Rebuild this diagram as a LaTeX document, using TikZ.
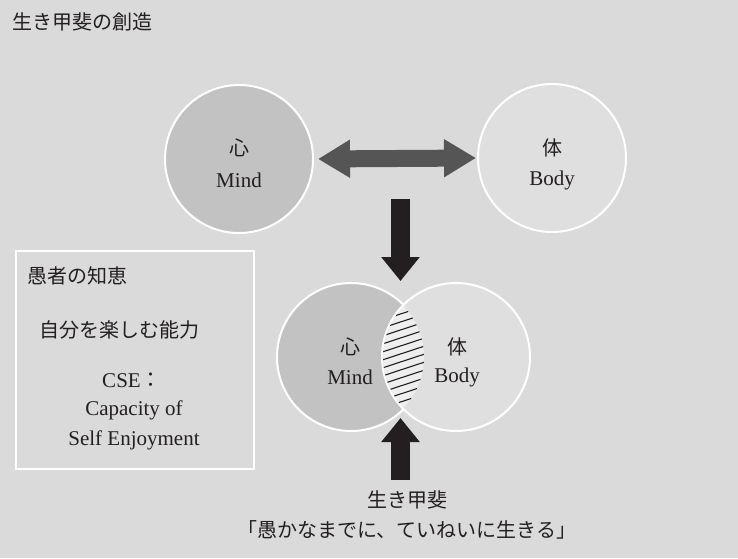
\documentclass[tikz,border=0pt]{standalone}
\usepackage{fontspec}
\setmainfont{Liberation Serif}
\newfontfamily\jp{Noto Sans CJK JP}
\usetikzlibrary{arrows.meta}
\definecolor{bg}{HTML}{DADADA}
\definecolor{mindgray}{HTML}{C2C2C2}
\definecolor{bodygray}{HTML}{DFDFDF}
\definecolor{arrowgray}{HTML}{555555}
\definecolor{ink}{HTML}{231F20}
\definecolor{lensfill}{HTML}{EEEEEE}
\begin{document}
\begin{tikzpicture}[x=1pt,y=-1pt,
  jptext/.style={font=\jp\fontsize{20}{24}\selectfont, inner sep=0pt, text=ink},
  entext/.style={font=\fontsize{21}{25}\selectfont, inner sep=0pt, text=ink},
  mindcirc/.style={circle, minimum size=148pt, inner sep=0pt, fill=mindgray, draw=white, line width=2pt},
  bodycirc/.style={circle, minimum size=148pt, inner sep=0pt, fill=bodygray, draw=white, line width=2pt},
  blockarrow/.style={ink, line width=19pt, -{Triangle[width=37pt,length=24pt]}},
  dblarrow/.style={arrowgray, line width=17pt, {Triangle[width=36pt,length=32pt]}-{Triangle[width=36pt,length=32pt]}, shorten <=4pt, shorten >=1pt},
  hatchline/.style={ink, line width=1.1pt},
  framebox/.style={draw=white, line width=1.5pt, minimum width=238pt, minimum height=218pt, inner sep=0pt, anchor=north west}
]
\fill[bg] (0,0) rectangle (738,558);
\useasboundingbox (0,0) rectangle (738,558);

% title
\node[jptext, anchor=west] (title) at (12,22) {生き甲斐の創造};

% top circles
\node[mindcirc] (mindA) at (239,159) {};
\node[bodycirc] (bodyA) at (552,158) {};
\node[jptext] (kokoroA) at (239,148) {心};
\node[entext] (mindtxtA) at (239,180) {Mind};
\node[jptext] (karadaA) at (552,148) {体};
\node[entext] (bodytxtA) at (552,180) {Body};
\draw[dblarrow] (mindA.east) -- (bodyA.west);

% down arrow
\coordinate (dtop) at (400.5,199);
\coordinate (dtip) at (400.5,281);
\draw[blockarrow] (dtop) -- (dtip);

% bottom circles
\node[mindcirc] (mindB) at (351,357) {};
\node[bodycirc] (bodyB) at (456,357) {};
\begin{scope}
  \clip (mindB.center) circle (73pt);
  \clip (bodyB.center) circle (73pt);
  \fill[lensfill] (370,280) rectangle (440,440);
  \foreach \k in {0,...,22}
    \draw[hatchline] (370,292+8*\k) -- ++(70,-23);
\end{scope}
\node[jptext] (kokoroB) at (350,347) {心};
\node[entext] (mindtxtB) at (350,377) {Mind};
\node[jptext] (karadaB) at (457,347) {体};
\node[entext] (bodytxtB) at (457,377) {Body};

% up arrow
\coordinate (ubot) at (400.5,480);
\coordinate (utip) at (400.5,418);
\draw[blockarrow] (ubot) -- (utip);

\node[jptext] (ikigai) at (407,500) {生き甲斐};
\node[jptext] (motto) at (407,530) {「愚かなまでに、ていねいに生きる」};

% left box
\node[framebox] (wisdom) at (15,250) {};
\node[jptext, anchor=west] (gusha) at (27,276) {愚者の知恵};
\node[jptext] (jibun) at (119,330) {自分を楽しむ能力};
\node[entext] (cse) at (132,380) {CSE{\jp ：}};
\node[entext] (capacity) at (134,410) {Capacity of};
\node[entext] (selfenj) at (134,440) {Self Enjoyment};
\end{tikzpicture}
\end{document}
